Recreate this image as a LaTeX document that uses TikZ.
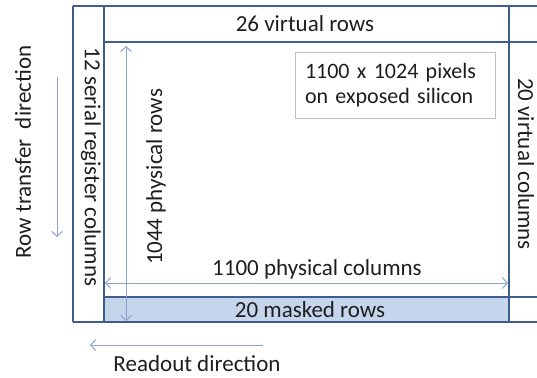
\documentclass[tikz,border=0pt]{standalone}
\usepackage{fontspec}
\setmainfont{Carlito}
\usetikzlibrary{arrows.meta}
\definecolor{framecol}{HTML}{3E5C8C}
\definecolor{arrowcol}{HTML}{8AA4CC}
\definecolor{maskcol}{HTML}{C5D5EB}
\definecolor{textcol}{HTML}{1E1E1E}

\begin{document}
\begin{tikzpicture}[x=1pt, y=-1pt,
    every node/.style={font=\fontsize{23}{26}\selectfont, text=textcol, inner sep=0pt},
    thinframe/.style={draw=framecol, line width=1.2pt},
    frame/.style={draw=framecol, line width=2pt},
    dimarrow/.style={draw=arrowcol, line width=1pt, {Straight Barb[length=5pt,width=11pt]}-{Straight Barb[length=5pt,width=11pt]}},
    dirarrow/.style={draw=arrowcol, line width=1pt, -{Straight Barb[length=5pt,width=11pt]}}]
  \useasboundingbox (0,0) rectangle (537,377);

  % Corners of the sensor
  \coordinate (outerTL) at (73,6);
  \coordinate (outerBL) at (73,322);
  \coordinate (regTop) at (104,6);
  \coordinate (regBot) at (104,322);
  \coordinate (imgTR) at (509,6);
  \coordinate (imgBR) at (509,322);
  \coordinate (rowsL) at (104,42);
  \coordinate (rowsR) at (537,42);
  \coordinate (maskL) at (104,297);
  \coordinate (maskR) at (537,297);
  \coordinate (topR) at (537,6);
  \coordinate (botR) at (537,322);

  % Masked rows band
  \fill[maskcol] (maskL) rectangle (imgBR);

  % Frame
  \draw[thinframe] (outerTL) -- (outerBL);
  \draw[frame] (outerTL) -- (topR);
  \draw[frame] (outerBL) -- (botR);
  \draw[frame] (regTop) -- (regBot);
  \draw[frame] (imgTR) -- (imgBR);
  \draw[frame] (rowsL) -- (rowsR);
  \draw[frame] (maskL) -- (maskR);

  % Dimension arrows
  \coordinate (physTop) at (126,46);
  \coordinate (physBot) at (126,321);
  \coordinate (colsL) at (105,283);
  \coordinate (colsR) at (508,283);
  \draw[dimarrow] (physTop) -- (physBot);
  \draw[dimarrow] (colsL) -- (colsR);

  % Direction arrows
  \coordinate (transTop) at (57,77);
  \coordinate (transBot) at (57,237);
  \coordinate (readR) at (263,345);
  \coordinate (readL) at (90,345);
  \draw[dirarrow] (transTop) -- (transBot);
  \draw[dirarrow] (readR) -- (readL);

  % Labels
  \node (virtRows) at (305,24) {26 virtual rows};
  \node (maskRows) at (310,310) {20 masked rows};
  \node (physCols) at (317,269) {1100 physical columns};
  \node (physRows) at (156,177) [rotate=90] {1044 physical rows};
  \node (serCols) at (91,167) [rotate=-90] {12 serial register columns};
  \node (virtCols) at (526,164) [rotate=-90] {20 virtual columns};
  \node (rowTrans) at (23,152) [rotate=90] {Row transfer\ \ direction};
  \node (readDir) at (197,364) {Readout direction};
  \node (exposed) at (395,85) [draw=black!25, line width=0.8pt, minimum width=200pt, minimum height=66pt,
    align=left, text width=180pt, font=\fontsize{22}{25}\selectfont] {1100 x 1024 pixels\\on exposed silicon};
\end{tikzpicture}
\end{document}
